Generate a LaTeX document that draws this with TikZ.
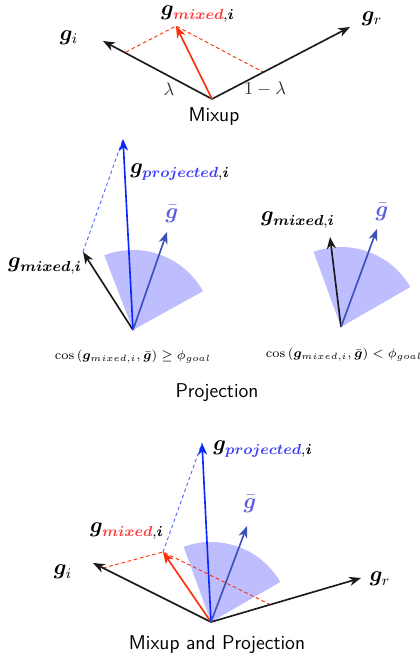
\documentclass[tikz,border=0pt]{standalone}
\usepackage{amsmath,bm}
\usetikzlibrary{arrows.meta}
\definecolor{mixred}{RGB}{255,45,10}
\definecolor{mixlabel}{RGB}{250,60,60}
\definecolor{projblue}{RGB}{10,40,250}
\definecolor{projlabel}{RGB}{60,60,250}
\definecolor{gbar}{RGB}{60,80,185}
\definecolor{gbarlabel}{RGB}{95,95,215}
\definecolor{sector}{RGB}{190,190,255}
\definecolor{dark}{RGB}{25,25,25}
\tikzset{
  vec/.style={line width=0.9pt,-{Stealth[length=6.5pt,width=5pt,inset=2pt]}},
  blackvec/.style={vec,draw=dark},
  redvec/.style={vec,draw=mixred},
  bluevec/.style={vec,draw=projblue},
  gbarvec/.style={vec,draw=gbar},
  reddash/.style={draw=mixred,line width=0.5pt,dash pattern=on 2pt off 1.5pt},
  bluedash/.style={draw=projblue!70,line width=0.5pt,dash pattern=on 2pt off 1.5pt},
  sect/.style={fill=sector,draw=none},
  lab/.style={inner sep=1pt,font=\large},
  captxt/.style={inner sep=1pt,font=\fontsize{11}{13}\sffamily\selectfont},
  smalltxt/.style={inner sep=1pt,font=\normalsize},
  cosatxt/.style={inner sep=0pt,font=\fontsize{7.2}{9}\selectfont},
}
\newcommand{\gvec}{\bm{g}}
\newcommand{\gmixr}{\bm{g}_{\textcolor{mixlabel}{\bm{mixed}},\bm{i}}}
\newcommand{\gmixk}{\bm{g}_{\bm{mixed},\bm{i}}}
\newcommand{\gproj}{\bm{g}_{\textcolor{projlabel}{\bm{projected}},\bm{i}}}
\newcommand{\gbarl}{\textcolor{gbarlabel}{\bar{\bm{g}}}}
\begin{document}
\begin{tikzpicture}[x=0.55pt,y=-0.55pt]
\useasboundingbox (0,0) rectangle (419,662);
% ---------- Mixup ----------
\coordinate (o1) at (212,99);
\coordinate (gi1) at (103,41);
\coordinate (gr1) at (350,27);
\coordinate (gm1) at (176,26);
\coordinate (pi1) at (126,52);
\coordinate (pr1) at (263,72);
\draw[reddash] (pi1) -- (gm1) -- (pr1);
\draw[blackvec] (o1) -- (gi1);
\draw[blackvec] (o1) -- (gr1);
\draw[redvec] (o1) -- (gm1);
\node[lab] (lgi1) at (69,38) {$\gvec_i$};
\node[lab] (lgr1) at (372,19) {$\gvec_r$};
\node[lab] (lgm1) at (198,14) {$\gmixr$};
\node[smalltxt,text=dark!90] (lam) at (169,89) {$\lambda$};
\node[smalltxt,text=dark!90] (olam) at (265,89) {$1-\lambda$};
\node[captxt] (t1) at (214,117) {Mixup};
% ---------- Projection left ----------
\coordinate (o2) at (133,330);
\fill[sect] (o2) -- ++(-29:80) arc[start angle=-29,end angle=-111,radius=80] -- cycle;
\coordinate (gm2) at (83,252);
\coordinate (gp2) at (123,139);
\coordinate (gb2) at (167,232);
\draw[bluedash] (gm2) -- (gp2);
\draw[blackvec] (o2) -- (gm2);
\draw[bluevec] (o2) -- (gp2);
\draw[gbarvec] (o2) -- (gb2);
\node[lab] (lgp2) at (180,172) {$\gproj$};
\node[lab] (lgb2) at (172,214) {$\gbarl$};
\node[lab] (lgm2) at (45,266) {$\gmixk$};
\node[cosatxt] (c2) at (133,357) {$\cos\left(\bm{g}_{mixed,i},\bar{\bm{g}}\right)\geq\phi_{goal}$};
% ---------- Projection right ----------
\coordinate (o3) at (341,327);
\fill[sect] (o3) -- ++(-30:80) arc[start angle=-30,end angle=-110,radius=80] -- cycle;
\coordinate (gm3) at (330,237);
\coordinate (gb3) at (377,229);
\draw[blackvec] (o3) -- (gm3);
\draw[gbarvec] (o3) -- (gb3);
\node[lab] (lgm3) at (298,220) {$\gmixk$};
\node[lab] (lgb3) at (382,212) {$\gbarl$};
\node[cosatxt] (c3) at (344,355) {$\cos\left(\bm{g}_{mixed,i},\bar{\bm{g}}\right)<\phi_{goal}$};
\node[captxt] (t2) at (217,393) {Projection};
% ---------- Mixup and Projection ----------
\coordinate (o4) at (211,622);
\fill[sect] (o4) -- ++(-30:80) arc[start angle=-30,end angle=-110,radius=80] -- cycle;
\coordinate (gi4) at (93,563);
\coordinate (gr4) at (361,578);
\coordinate (gm4) at (163,552);
\coordinate (gp4) at (202,443);
\coordinate (gb4) at (247,526);
\coordinate (pi4) at (103,568);
\coordinate (pr4) at (269,604);
\draw[reddash] (pi4) -- (gm4) -- (pr4);
\draw[bluedash] (gm4) -- (gp4);
\draw[blackvec] (o4) -- (gi4);
\draw[blackvec] (o4) -- (gr4);
\draw[redvec] (o4) -- (gm4);
\draw[bluevec] (o4) -- (gp4);
\draw[gbarvec] (o4) -- (gb4);
\node[lab] (lgi4) at (63,572) {$\gvec_i$};
\node[lab] (lgr4) at (380,579) {$\gvec_r$};
\node[lab] (lgp4) at (263,449) {$\gproj$};
\node[lab] (lgb4) at (250,504) {$\gbarl$};
\node[lab] (lgm4) at (127,531) {$\gmixr$};
\node[captxt] (t3) at (217,645) {Mixup and Projection};
\end{tikzpicture}
\end{document}
